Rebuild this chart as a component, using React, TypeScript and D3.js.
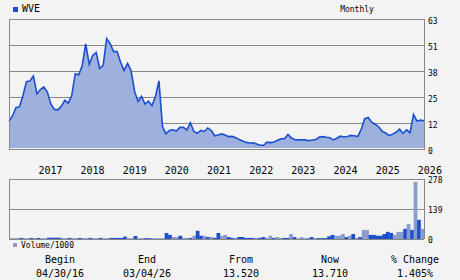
import React from "react";
import * as d3 from "d3";

const prices = [
  13.52, 16, 20, 20.5, 25.8, 32.6, 33, 35.4, 26.7, 28.8,
  30.1, 27.6, 21.8, 19.2, 19, 20.7, 23.6, 22.2, 26, 36.5,
  36, 40.5, 51, 41, 45.3, 46.8, 39, 40.5, 53.5, 51,
  47.2, 47.2, 42, 38, 41.5, 38, 28, 23, 25.5, 21.8,
  23.2, 21, 25.5, 33, 11, 7.3, 9, 9.3, 8.7, 10.5,
  10.5, 9.2, 12.7, 8.5, 7.6, 9, 8.5, 10.2, 8.9, 6.4,
  6.8, 7.3, 6.8, 6, 6.1, 5.5, 4.6, 3.9, 3.2, 2.9,
  3, 2.4, 1.8, 1.8, 3.3, 3.1, 3.4, 4.2, 5, 5,
  7, 5.3, 4.5, 4.4, 4.4, 4.4, 4, 4.4, 4.6, 5.8,
  6, 5.7, 5.5, 4.4, 5.2, 6.2, 5.8, 6.1, 6.6, 6.4,
  6, 9.5, 14.7, 15.3, 13, 12, 10.8, 8.6, 7.8, 6.5,
  7.2, 8.1, 9.6, 7.6, 9.3, 7.9, 16.8, 13.5, 14, 13.71,
];

const volumes = [
  4, 4, 4, 5, 4, 4, 5, 4, 5, 4,
  4, 6, 6, 6, 6, 4, 4, 5, 4, 4,
  5, 4, 4, 5, 4, 4, 5, 4, 4, 5,
  5, 5, 5, 11, 4, 4, 14, 4, 4, 4,
  4, 2, 2, 4, 4, 28, 19, 9, 9, 15,
  5, 5, 5, 15, 38, 15, 15, 9, 9, 5,
  28, 15, 19, 9, 5, 5, 9, 9, 5, 5,
  5, 5, 5, 9, 5, 15, 5, 9, 5, 5,
  5, 23, 9, 3, 9, 2, 3, 9, 4, 4,
  4, 4, 12, 19, 15, 15, 23, 9, 15, 23,
  5, 9, 42, 42, 19, 19, 15, 15, 23, 33,
  28, 19, 33, 33, 47, 70, 42, 264, 89, 47,
];

// 1 = dark blue bar, 0 = light bar
const volColors = [
  0, 0, 0, 1, 0, 0, 1, 0, 1, 0,
  0, 1, 1, 1, 1, 0, 0, 1, 0, 0,
  1, 0, 0, 1, 0, 0, 1, 0, 0, 1,
  1, 1, 1, 1, 0, 0, 1, 0, 0, 1,
  1, 1, 1, 0, 0, 1, 1, 0, 0, 1,
  0, 0, 1, 0, 1, 1, 0, 1, 0, 1,
  1, 0, 0, 1, 1, 0, 1, 1, 1, 1,
  1, 0, 1, 1, 0, 0, 1, 0, 0, 1,
  1, 0, 1, 0, 0, 1, 1, 1, 0, 1,
  1, 1, 1, 1, 0, 0, 0, 1, 0, 1,
  0, 1, 0, 0, 1, 1, 1, 1, 1, 1,
  1, 0, 0, 0, 1, 0, 1, 0, 1, 0,
];

const years = ["2017", "2018", "2019", "2020", "2021", "2022", "2023", "2024", "2025", "2026"];
const priceTicks = [0, 12.6, 25.2, 37.8, 50.4, 63];
const priceTickLabels = ["0", "12", "25", "38", "51", "63"];
const volTicks = [0, 139, 278];
const volTickLabels = ["0", "139", "278"];
const startDate = new Date(2016, 3, 30);
const endDate = new Date(2026, 2, 4);

const summaryLabels = ["Begin", "End", "From", "Now", "% Change"];
const summaryValues = ["04/30/16", "03/04/26", "13.520", "13.710", "1.405%"];

const BG = "#f3f3f3";
const GRID = "#888888";
const BLUE = "#1a4fcf";
const LIGHT = "#8a9bcc";
const FILL = "#9eb0dd";
const FONT = "DejaVu Sans Mono, monospace";

export default function App() {
  const L = 9, R = 424;
  const x = d3.scaleLinear().domain([0, prices.length - 1]).range([L, R]);
  const y = d3.scaleLinear().domain([0, 63]).range([149, 19]);
  const t = d3.scaleTime().domain([startDate, endDate]).range([L, R]);
  const band = d3.scaleBand<number>().domain(d3.range(volumes.length)).range([L, R]).padding(0);
  const yv = d3.scaleLinear().domain([0, 278]).range([239, 179]);

  const line = d3.line<number>().x((_, i) => x(i)).y((d) => y(d));
  const area = d3.area<number>().x((_, i) => x(i)).y0(148).y1((d) => y(d));

  const cols = [60, 147, 241, 330, 415];

  return (
    <svg width={460} height={280} style={{ position: "absolute", left: 0, top: 0, background: BG }} fontFamily={FONT}>
      <rect x={0} y={0} width={460} height={280} fill={BG} />
      {/* header */}
      <rect x={13} y={7} width={5} height={5} fill={BLUE} />
      <text x={22} y={12} fontSize={10} fill="#000">WVE</text>
      <text x={357} y={11.5} fontSize={8} textAnchor="middle" fill="#000">Monthly</text>

      {/* price grid */}
      {priceTicks.map((v, i) => (
        <g key={"pt" + i}>
          <line x1={L} x2={R} y1={Math.round(y(v)) + 0.5} y2={Math.round(y(v)) + 0.5} stroke={GRID} strokeWidth={1} />
          <text x={428} y={y(v) + 5} fontSize={8} fill="#000">{priceTickLabels[i]}</text>
        </g>
      ))}
      <path d={area(prices) || ""} fill={FILL} />
      <path d={line(prices) || ""} fill="none" stroke={BLUE} strokeWidth={1.6} />
      <line x1={L + 0.5} x2={L + 0.5} y1={19} y2={150} stroke={GRID} />
      <line x1={R + 0.5} x2={R + 0.5} y1={19} y2={150} stroke={GRID} />

      {/* year labels */}
      {years.map((yr) => (
        <text key={yr} x={t(new Date(+yr, 0, 1)) + 1} y={174} fontSize={10} fill="#000">{yr}</text>
      ))}

      {/* volume panel */}
      {volTicks.map((v, i) => (
        <g key={"vt" + i}>
          <line x1={L} x2={R} y1={Math.round(yv(v)) + 0.5} y2={Math.round(yv(v)) + 0.5} stroke={GRID} />
          <text x={428} y={yv(v) + 4} fontSize={8} fill="#000">{volTickLabels[i]}</text>
        </g>
      ))}
      {volumes.map((v, i) => (
        <rect key={"vb" + i} x={band(i)} width={band.bandwidth() + 0.3} y={yv(v)} height={yv(0) - yv(v)} fill={volColors[i] ? BLUE : LIGHT} />
      ))}
      <line x1={L + 0.5} x2={L + 0.5} y1={179} y2={239} stroke={GRID} />
      <line x1={R + 0.5} x2={R + 0.5} y1={179} y2={239} stroke={GRID} />

      <rect x={13} y={243} width={4} height={4} fill={LIGHT} />
      <text x={21} y={248} fontSize={8} fill="#000">Volume/1000</text>

      {/* summary */}
      {summaryLabels.map((s, i) => (
        <g key={s}>
          <text x={cols[i]} y={263} fontSize={10} textAnchor="middle" fill="#000">{s}</text>
          <text x={cols[i]} y={277} fontSize={10} textAnchor="middle" fill="#000">{summaryValues[i]}</text>
        </g>
      ))}
    </svg>
  );
}
